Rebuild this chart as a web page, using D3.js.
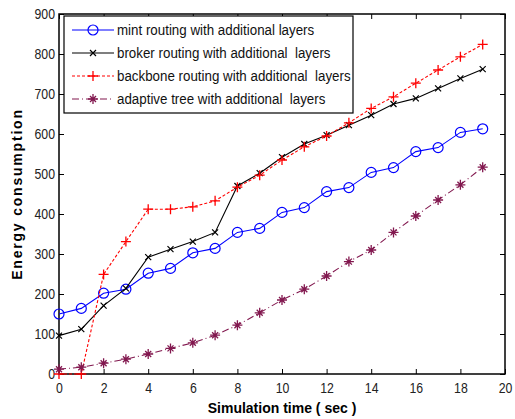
<!DOCTYPE html>
<html>
<head>
<meta charset="utf-8">
<script src="https://cdn.jsdelivr.net/npm/d3@7"></script>
<style>
  body { margin: 0; background: #fff; }
  text { font-family: "Liberation Sans", Arial, sans-serif; }
</style>
</head>
<body>
<script>
var width = 515;
var height = 419;

var margin = { left: 59, right: 10, top: 14, bottom: 45 };

// horizontal squeeze of the label font (the original looks condensed)
var squeeze = 0.82;
var legendSqueeze = 0.89;

var times = d3.range(0, 20);

var mint = [150, 164, 202, 212, 252, 264, 303, 314, 354, 364, 404, 416, 456, 466, 504, 516, 556, 566, 604, 613];
var broker = [96, 112, 171, 214, 292, 312, 331, 354, 470, 502, 542, 575, 597, 622, 647, 675, 689, 714, 739, 762];
var backbone = [0, 0, 249, 331, 412, 412, 418, 433, 467, 497, 535, 568, 595, 628, 664, 693, 727, 760, 793, 824];
var adaptive = [12, 17, 27, 37, 50, 64, 78, 97, 122, 153, 185, 212, 245, 281, 310, 354, 395, 435, 473, 517];

var seriesNames = [
  "mint routing with additional layers",
  "broker routing with additional  layers",
  "backbone routing with additional  layers",
  "adaptive tree with additional  layers"
];

var xTicks = d3.range(0, 21, 2);
var yTicks = d3.range(0, 901, 100);

var series = [
  { name: seriesNames[0], values: mint, color: "#0000ff", dash: null, marker: "circle" },
  { name: seriesNames[1], values: broker, color: "#000000", dash: null, marker: "x" },
  { name: seriesNames[2], values: backbone, color: "#ff0000", dash: "3,2", marker: "plus" },
  { name: seriesNames[3], values: adaptive, color: "#82184f", dash: "7,3,1,3", marker: "star" }
];

var svg = d3.select("body").append("svg")
  .attr("width", width)
  .attr("height", height);

var x = d3.scaleLinear().domain([0, 20]).range([margin.left, width - margin.right]);
var y = d3.scaleLinear().domain([0, 900]).range([height - margin.bottom, margin.top]);

function squeezeLabels(g) {
  g.selectAll("text").each(function() {
    var t = d3.select(this);
    var tx = +t.attr("x") || 0;
    t.attr("x", tx / squeeze).attr("transform", "scale(" + squeeze + ",1)");
  });
}

// axes, ticks pointing in
svg.append("g")
  .attr("transform", "translate(0," + y(0) + ")")
  .call(d3.axisBottom(x).tickValues(xTicks).tickSizeInner(-5).tickSizeOuter(0).tickPadding(8))
  .call(function(g) {
    g.select(".domain").remove();
    g.selectAll("text").attr("font-size", 15).attr("fill", "#222");
    squeezeLabels(g);
  });

svg.append("g")
  .attr("transform", "translate(" + x(0) + ",0)")
  .call(d3.axisLeft(y).tickValues(yTicks).tickSizeInner(-5).tickSizeOuter(0).tickPadding(4))
  .call(function(g) {
    g.select(".domain").remove();
    g.selectAll("text").attr("font-size", 15).attr("fill", "#222");
    squeezeLabels(g);
  });

svg.append("g")
  .attr("transform", "translate(0," + y(900) + ")")
  .call(d3.axisTop(x).tickValues(xTicks).tickSizeInner(-5).tickSizeOuter(0).tickFormat(""))
  .call(function(g) { g.select(".domain").remove(); });

svg.append("g")
  .attr("transform", "translate(" + x(20) + ",0)")
  .call(d3.axisRight(y).tickValues(yTicks).tickSizeInner(-5).tickSizeOuter(0).tickFormat(""))
  .call(function(g) { g.select(".domain").remove(); });

svg.append("rect")
  .attr("x", x(0))
  .attr("y", y(900))
  .attr("width", x(20) - x(0))
  .attr("height", y(0) - y(900))
  .style("fill", "none")
  .style("stroke", "#000")
  .style("stroke-width", 1.5);

// markers
function drawMarker(sel, type, color) {
  if (type == "circle") {
    sel.append("circle").attr("r", 5)
      .style("fill", "none").style("stroke", color).style("stroke-width", 1.2);
  } else if (type == "x") {
    sel.append("path").attr("d", "M-3,-3L3,3M-3,3L3,-3")
      .style("stroke", color).style("stroke-width", 1.2);
  } else if (type == "plus") {
    sel.append("path").attr("d", "M-5,0L5,0M0,-5L0,5")
      .style("stroke", color).style("stroke-width", 1.3);
  } else {
    sel.append("path").attr("d", "M-5,0L5,0M0,-5L0,5M-3,-3L3,3M-3,3L3,-3")
      .style("stroke", color).style("stroke-width", 1.3);
  }
}

var line = d3.line()
  .x(function(d, i) { return x(times[i]); })
  .y(function(d) { return y(d); });

series.forEach(function(s) {
  svg.append("path")
    .datum(s.values)
    .attr("d", line)
    .style("fill", "none")
    .style("stroke", s.color)
    .style("stroke-width", 1.1)
    .style("stroke-dasharray", s.dash);

  svg.append("g").selectAll("g")
    .data(s.values)
    .enter().append("g")
    .attr("transform", function(d, i) { return "translate(" + x(times[i]) + "," + y(d) + ")"; })
    .each(function() { drawMarker(d3.select(this), s.marker, s.color); });
});

// legend
var legend = svg.append("g");
legend.append("rect")
  .attr("x", 64)
  .attr("y", 16)
  .attr("width", 289)
  .attr("height", 97)
  .style("fill", "#fff")
  .style("stroke", "#000")
  .style("stroke-width", 1.2);

var rows = legend.selectAll("g.row")
  .data(series)
  .enter().append("g")
  .attr("class", "row")
  .attr("transform", function(d, i) { return "translate(0," + (30 + i * 23) + ")"; });

rows.append("line")
  .attr("x1", 72).attr("x2", 114)
  .style("stroke", function(d) { return d.color; })
  .style("stroke-width", 1.1)
  .style("stroke-dasharray", function(d) { return d.dash; });

rows.append("g")
  .attr("transform", "translate(93,0)")
  .each(function(d) { drawMarker(d3.select(this), d.marker, d.color); });

rows.append("text")
  .attr("transform", "translate(117,5) scale(" + legendSqueeze + ",1)")
  .attr("font-size", 15)
  .style("white-space", "pre")
  .attr("fill", "#111")
  .text(function(d) { return d.name; });

// axis titles
svg.append("text")
  .attr("x", (x(0) + x(20)) / 2)
  .attr("y", 413)
  .attr("text-anchor", "middle")
  .attr("font-size", 14)
  .attr("font-weight", "bold")
  .text("Simulation time ( sec )");

svg.append("text")
  .attr("transform", "translate(22," + (y(0) + y(900)) / 2 + ") rotate(-90)")
  .attr("text-anchor", "middle")
  .attr("font-size", 14)
  .attr("font-weight", "bold")
  .attr("letter-spacing", 1.8)
  .text("Energy consumption");
</script>
</body>
</html>
